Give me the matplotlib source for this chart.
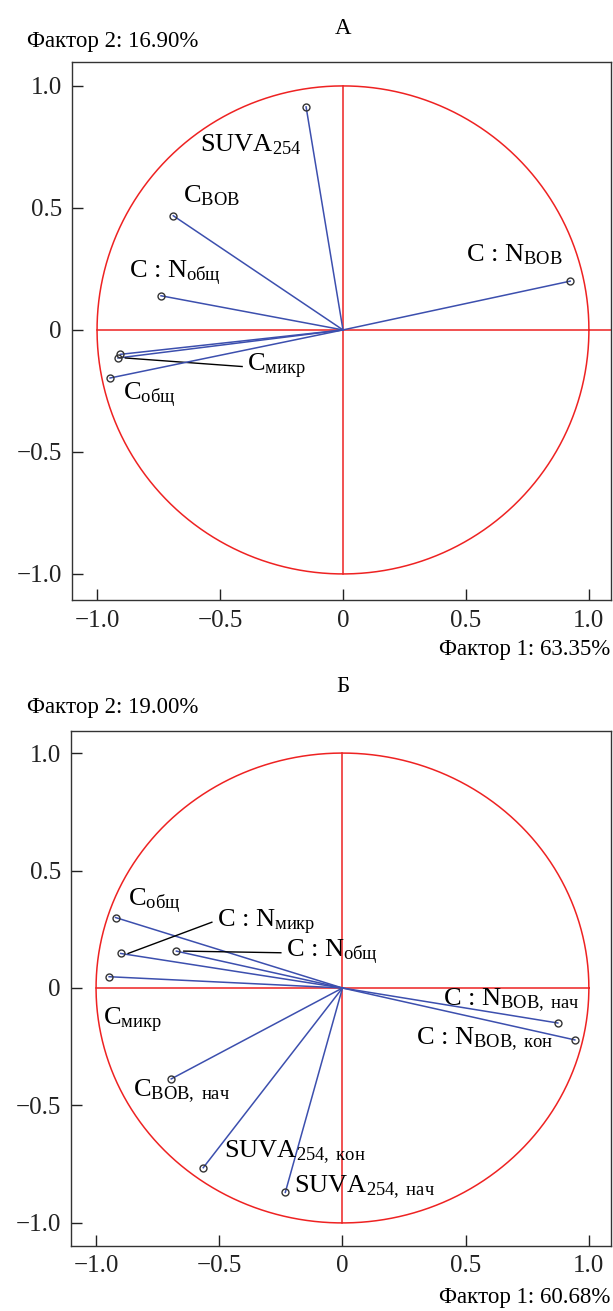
import numpy as np
import matplotlib.pyplot as plt

plt.rcParams['font.family'] = ['Liberation Serif', 'DejaVu Serif']
plt.rcParams['mathtext.fontset'] = 'custom'
plt.rcParams['mathtext.rm'] = 'Liberation Serif'
plt.rcParams['mathtext.it'] = 'Liberation Serif'
plt.rcParams['axes.unicode_minus'] = True

# panel A loadings
a_x = [-0.15, -0.69, -0.74, 0.924, -0.905, -0.915, -0.947]
a_y = [0.914, 0.468, 0.14, 0.20, -0.10, -0.115, -0.197]
a_labels = ['SUVA$_{254}$', 'C$_{\\mathrm{ВОВ}}$', 'C : N$_{\\mathrm{общ}}$',
            'C : N$_{\\mathrm{ВОВ}}$', None, 'C$_{\\mathrm{микр}}$', 'C$_{\\mathrm{общ}}$']
a_lab_x = [-0.58, -0.65, -0.87, 0.50, None, -0.39, -0.895]
a_lab_y = [0.76, 0.55, 0.23, 0.31, None, -0.15, -0.27]
a_leader = [False, False, False, False, False, True, False]

# panel B loadings
b_x = [-0.921, -0.90, -0.674, -0.947, -0.695, -0.565, -0.232, 0.874, 0.943]
b_y = [0.30, 0.147, 0.157, 0.048, -0.387, -0.765, -0.87, -0.149, -0.221]
b_labels = ['C$_{\\mathrm{общ}}$', 'C : N$_{\\mathrm{микр}}$', 'C : N$_{\\mathrm{общ}}$',
            'C$_{\\mathrm{микр}}$', 'C$_{\\mathrm{ВОВ,\\ нач}}$', 'SUVA$_{\\mathrm{254,\\ кон}}$',
            'SUVA$_{\\mathrm{254,\\ нач}}$', 'C : N$_{\\mathrm{ВОВ,\\ нач}}$', 'C : N$_{\\mathrm{ВОВ,\\ кон}}$']
b_lab_x = [-0.87, -0.51, -0.23, -0.97, -0.85, -0.48, -0.195, 0.41, 0.30]
b_lab_y = [0.37, 0.28, 0.15, -0.14, -0.44, -0.70, -0.85, -0.05, -0.22]
b_leader = [False, True, True, False, False, False, False, False, False]

ticks = [-1.0, -0.5, 0, 0.5, 1.0]
tick_labels = ['\u22121.0', '\u22120.5', '0', '0.5', '1.0']

BLUE = '#3c4fae'
RED = '#ee2222'
XLIM = (-1.103, 1.088)


def draw_panel(ax, xs, ys, labels, lx, ly, leader, hline_right, ylim):
    t = np.linspace(0, 2 * np.pi, 400)
    ax.plot(np.cos(t), np.sin(t), color=RED, lw=1.1, zorder=1)
    ax.plot([-1, hline_right], [0, 0], color=RED, lw=1.1, zorder=1)
    ax.plot([0, 0], [-1, 1], color=RED, lw=1.1, zorder=1)
    for i in range(len(xs)):
        ax.plot([0, xs[i]], [0, ys[i]], color=BLUE, lw=1.1, zorder=2)
        ax.plot(xs[i], ys[i], 'o', ms=5, mfc='none', mec='#333333', mew=1.0, zorder=3)
        if labels[i] is None:
            continue
        ax.text(lx[i], ly[i], labels[i], fontsize=19, ha='left', va='center', zorder=4)
        if leader[i]:
            ax.plot([xs[i] + 0.03, lx[i] - 0.02], [ys[i], ly[i]], color='black', lw=1.0, zorder=2)
    ax.set_xlim(*XLIM)
    ax.set_ylim(*ylim)
    ax.set_xticks(ticks)
    ax.set_xticklabels(tick_labels)
    ax.set_yticks(ticks)
    ax.set_yticklabels(tick_labels)
    ax.tick_params(direction='in', length=8, width=1, labelsize=18, pad=7, colors='#222222')
    for s in ax.spines.values():
        s.set_color('#333333')
        s.set_linewidth(1.0)


fig = plt.figure(figsize=(6.13, 13.11), dpi=100)
ax1 = fig.add_axes([0.117, 0.5423, 0.879, 0.4104])
ax2 = fig.add_axes([0.1153, 0.0498, 0.8807, 0.3928])

draw_panel(ax1, a_x, a_y, a_labels, a_lab_x, a_lab_y, a_leader, XLIM[1], (-1.107, 1.098))
draw_panel(ax2, b_x, b_y, b_labels, b_lab_x, b_lab_y, b_leader, 1.0, (-1.097, 1.095))

fig.text(343 / 613, 1 - 28 / 1311, 'А', fontsize=16.5, ha='center', va='center')
fig.text(27 / 613, 1 - 42 / 1311, 'Фактор 2: 16.90%', fontsize=16.5, ha='left', va='center')
fig.text(610 / 613, 1 - 650 / 1311, 'Фактор 1: 63.35%', fontsize=16.5, ha='right', va='center')

fig.text(343 / 613, 1 - 686 / 1311, 'Б', fontsize=16.5, ha='center', va='center')
fig.text(27 / 613, 1 - 707 / 1311, 'Фактор 2: 19.00%', fontsize=16.5, ha='left', va='center')
fig.text(610 / 613, 1 - 1298 / 1311, 'Фактор 1: 60.68%', fontsize=16.5, ha='right', va='center')

fig.savefig('out.png', dpi=100)
